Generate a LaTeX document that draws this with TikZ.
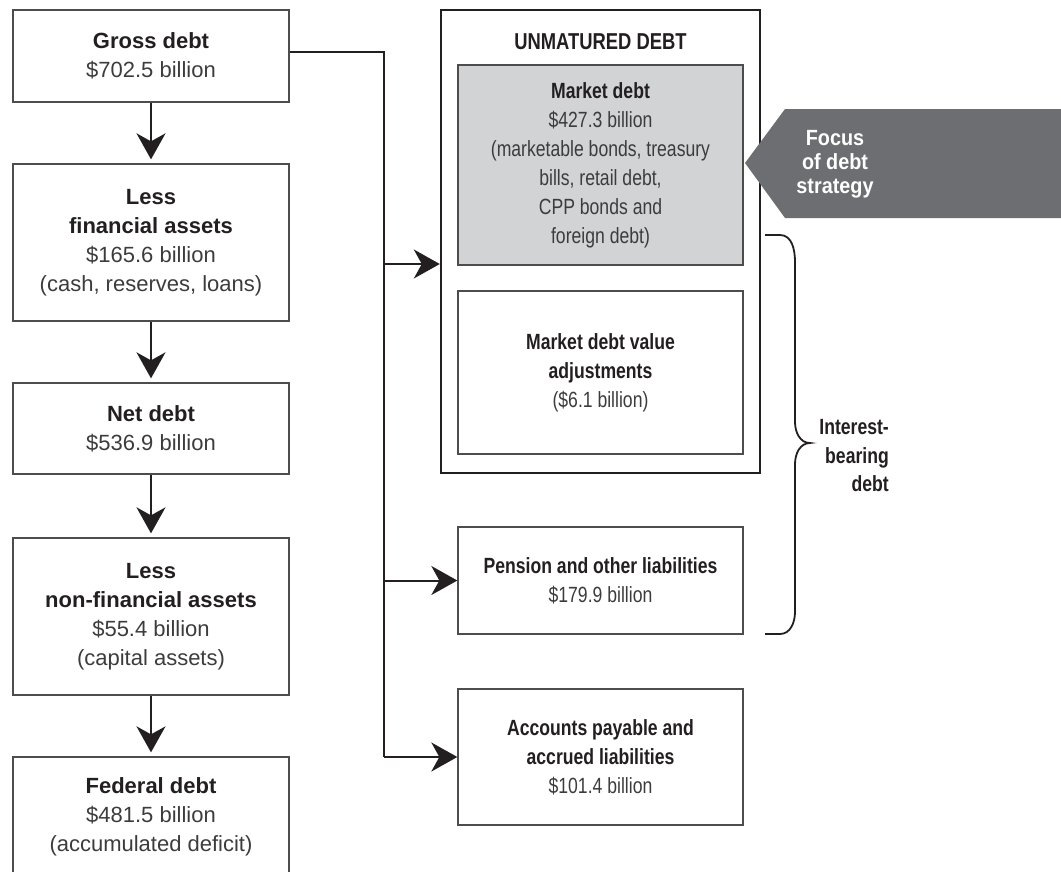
\documentclass[tikz,border=0pt]{standalone}
\usepackage{fontspec}
\setmainfont{Liberation Sans}
\newfontfamily\narrowfont[FakeStretch=0.8]{Liberation Sans}
\newfontfamily\focusfont[FakeStretch=0.9]{Liberation Sans}
\usetikzlibrary{arrows.meta}
\definecolor{boxline}{HTML}{4D4D4D}
\definecolor{inktext}{HTML}{231F20}
\definecolor{softtext}{HTML}{3C3C3C}
\definecolor{marketgray}{HTML}{D1D3D4}
\definecolor{focusgray}{HTML}{6D6E71}
\newcommand{\hd}[1]{{\bfseries\color{inktext}#1}}
\begin{document}
\begin{tikzpicture}[x=1pt,y=-1pt,
    every node/.style={inner sep=0pt, align=center, text=softtext, font=\fontsize{22}{29}\selectfont},
    leftbox/.style={draw=boxline, line width=1.3pt, minimum width=276pt},
    rightbox/.style={draw=boxline, line width=1.3pt, minimum width=285pt, font=\narrowfont\fontsize{22}{29}\selectfont},
    link/.style={draw=inktext, line width=2pt},
    flow/.style={link, -{Stealth[length=26pt,width=29pt,inset=8pt]}}]
    \useasboundingbox (0,0) rectangle (1061,871);
    % left column
    \node [leftbox, minimum height=92pt] (gross) at (151,56) {\hd{Gross debt}\\\$702.5 billion};
    \node [leftbox, minimum height=157pt] (finassets) at (151,242.5) {\hd{Less}\\\hd{financial assets}\\\$165.6 billion\\(cash, reserves, loans)};
    \node [leftbox, minimum height=91pt] (net) at (151,428.5) {\hd{Net debt}\\\$536.9 billion};
    \node [leftbox, minimum height=157pt] (nonfin) at (151,616.5) {\hd{Less}\\\hd{non-financial assets}\\\$55.4 billion\\(capital assets)};
    \node [leftbox, minimum height=120pt] (federal) at (151,817) {\hd{Federal debt}\\\$481.5 billion\\(accumulated deficit)};
    \draw [flow, shorten >=4pt] (gross) -- (finassets);
    \draw [flow, shorten >=4pt] (finassets) -- (net);
    \draw [flow, shorten >=4pt] (net) -- (nonfin);
    \draw [flow, shorten >=4pt] (nonfin) -- (federal);
    % right column
    \node [draw=inktext, line width=2.4pt, minimum width=319pt, minimum height=463pt] (unmatured) at (600.5,241.5) {};
    \node [font=\narrowfont\fontsize{23}{29}\selectfont] (unmtitle) at (600.5,42) {\hd{UNMATURED DEBT}};
    \node [rightbox, fill=marketgray, minimum height=200pt] (market) at (600.5,165) {\hd{Market debt}\\\$427.3 billion\\(marketable bonds, treasury\\bills, retail debt,\\CPP bonds and\\foreign debt)};
    \node [rightbox, minimum height=163pt] (adjust) at (600.5,372.5) {\hd{Market debt value}\\\hd{adjustments}\\(\$6.1 billion)};
    \node [rightbox, minimum height=107pt] (pension) at (600.5,580.5) {\hd{Pension and other liabilities}\\\$179.9 billion};
    \node [rightbox, minimum height=136pt] (accounts) at (600.5,757) {\hd{Accounts payable and}\\\hd{accrued liabilities}\\\$101.4 billion};
    % connectors
    \coordinate (j1) at (384,264);
    \coordinate (j2) at (384,580.5);
    \coordinate (j3) at (384,757);
    \draw [link] ([yshift=4pt]gross.east) -| (j3);
    \draw [flow] (j1) -- (unmatured.west |- j1);
    \draw [flow] (j2) -- (pension.west);
    \draw [flow] (j3) -- (accounts.west);
    % focus tag
    \fill [focusgray] (745,163) -- (785,109) -- (1061,109) -- (1061,218) -- (785,218) -- cycle;
    \node [text=white, font=\focusfont\bfseries\fontsize{22}{24}\selectfont] (focus) at (835,164) {Focus\\of debt\\strategy};
    % brace
    \draw [draw=inktext, line width=1.8pt] (765,235) -- (780,235) to[out=0,in=90] (795,262)
        -- (795,422) to[out=-90,in=180] (810,443) to[out=180,in=90] (795,464)
        -- (795,612) to[out=-90,in=0] (780,634) -- (765,634);
    \node [anchor=east, align=right, font=\narrowfont\bfseries\fontsize{22}{28.5}\selectfont, text=inktext] (interest) at (889,456) {Interest-\\bearing\\debt};
\end{tikzpicture}
\end{document}
